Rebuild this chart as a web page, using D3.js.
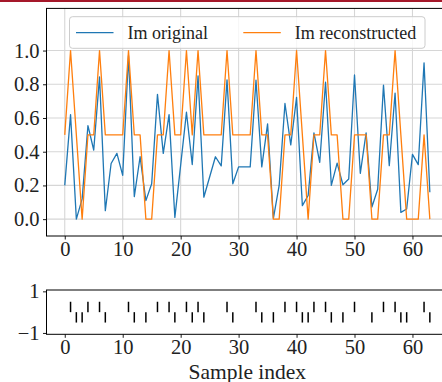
<!DOCTYPE html>
<html><head><meta charset="utf-8">
<script src="https://cdn.jsdelivr.net/npm/d3@7"></script>
<style>html,body{margin:0;padding:0;background:#fff;overflow:hidden}</style>
</head><body>
<svg id="c" width="442" height="382"></svg>
<script>
const imOriginal = [0.20,0.62,0.00,0.12,0.555,0.41,0.844,0.05,0.33,0.39,
  0.26,0.97,0.134,0.37,0.11,0.21,0.74,0.39,0.62,0.01,
  0.32,0.634,0.324,0.85,0.13,0.25,0.37,0.316,0.826,0.21,
  0.31,0.31,0.31,0.824,0.31,0.565,0.005,0.20,0.686,0.44,
  0.722,0.08,0.14,0.512,0.337,0.812,0.20,0.332,0.204,0.238,
  0.855,0.272,0.512,0.072,0.177,0.795,0.317,0.748,0.04,0.06,
  0.384,0.323,0.927,0.16];
const imReconstructed = [0.5,1,0.5,0,0.5,0.5,1,0.5,0.5,0.5,
  0.5,1,0.5,0.5,0,0,0.5,0.5,1,0.5,
  0.5,1,0.5,1,0.5,0.5,0.5,0.5,1,0.5,
  0.5,0.5,0.5,1,0.5,0.5,0,0,0.5,0.5,
  1,0.5,0,0.5,0.5,1,0.5,0.5,0,0,
  0.5,0.5,0.5,0,0,0.5,0.5,1,0.5,0,
  0,0,0.5,0];
const eventsPos = [1,4,6,11,16,18,21,23,28,33,38,40,43,45,50,55,57,62];
const eventsNeg = [2,3,7,12,14,19,22,24,29,34,36,41,42,46,48,53,58,59,63];
const xTicks = [0,10,20,30,40,50,60];
const yTicksTop = [0.0,0.2,0.4,0.6,0.8,1.0];
const yTicksBottom = [-1,1];
const seriesNames = ["Im original","Im reconstructed"];

const FONT = "'Liberation Serif', 'Times New Roman', serif";
const svg = d3.select("#c");
svg.append("rect").attr("x",0).attr("y",0).attr("width",442).attr("height",2).attr("fill","#a5182a");

const x = d3.scaleLinear().domain([-3.15, 66.15]).range([46.5, 448.1]);
const yTop = d3.scaleLinear().domain([-0.1, 1.25]).range([236, 8.4]);
const yBot = d3.scaleLinear().domain([-1.065, 1.065]).range([334.3, 290]);

// grid top
const gTop = svg.append("g");
gTop.selectAll("line.gx").data(xTicks).join("line")
  .attr("x1",d=>x(d)).attr("x2",d=>x(d)).attr("y1",yTop.range()[1]).attr("y2",yTop.range()[0])
  .attr("stroke","#d6d6d6").attr("stroke-width",1.1);
gTop.selectAll("line.gy").data(yTicksTop).join("line")
  .attr("x1",x.range()[0]).attr("x2",x.range()[1]).attr("y1",d=>yTop(d)).attr("y2",d=>yTop(d))
  .attr("stroke","#d6d6d6").attr("stroke-width",1.1);

const line = (arr)=> d3.line().x((d,i)=>x(i)).y(d=>yTop(d))(arr);
svg.append("path").attr("d",line(imOriginal)).attr("fill","none").attr("stroke","#1f77b4").attr("stroke-width",1.3).attr("stroke-linejoin","round");
svg.append("path").attr("d",line(imReconstructed)).attr("fill","none").attr("stroke","#ff7f0e").attr("stroke-width",1.3).attr("stroke-linejoin","round");

function frame(yScale){
  const [x0,x1]=x.range(); const [yb,yt]=yScale.range();
  svg.append("rect").attr("x",x0).attr("y",yt).attr("width",x1-x0).attr("height",yb-yt)
    .attr("fill","none").attr("stroke","#000").attr("stroke-width",1);
}
function axes(yScale, yTicks, yFmt){
  const yb = yScale.range()[0];
  const ax = svg.append("g").attr("transform",`translate(0,${yb})`)
    .call(d3.axisBottom(x).tickValues(xTicks).tickSize(3.5).tickPadding(1.5).tickFormat(d3.format("d")));
  const ay = svg.append("g").attr("transform",`translate(${x.range()[0]},0)`)
    .call(d3.axisLeft(yScale).tickValues(yTicks).tickSize(3.5).tickPadding(3.5).tickFormat(yFmt));
  [ax,ay].forEach(a=>{
    a.select(".domain").remove();
    a.selectAll("line").attr("stroke","#000").attr("stroke-width",0.9);
    a.selectAll("text").attr("font-family",FONT).attr("font-size",20.5).attr("fill","#222");
  });
}
frame(yTop);
axes(yTop, yTicksTop, d3.format(".1f"));

// legend
const lg = svg.append("g");
lg.append("rect").attr("x",69.5).attr("y",16.7).attr("width",355.5).attr("height",31.6).attr("rx",3)
  .attr("fill","#fff").attr("fill-opacity",0.8).attr("stroke","#cccccc").attr("stroke-width",1);
const legItems = [{name:seriesNames[0],color:"#1f77b4",x:76},{name:seriesNames[1],color:"#ff7f0e",x:243.3}];
legItems.forEach(it=>{
  lg.append("line").attr("x1",it.x).attr("x2",it.x+37.5).attr("y1",32.7).attr("y2",32.7)
    .attr("stroke",it.color).attr("stroke-width",1.3);
  lg.append("text").attr("x",it.x+51.5).attr("y",32.7).attr("dy","0.35em")
    .attr("font-family",FONT).attr("font-size",18).attr("fill","#222").text(it.name);
});

// bottom panel events
frame(yBot);
svg.append("g").selectAll("line").data(eventsPos).join("line")
  .attr("x1",d=>x(d)).attr("x2",d=>x(d)).attr("y1",yBot(0.5)).attr("y2",yBot(0))
  .attr("stroke","#000").attr("stroke-width",1.5);
svg.append("g").selectAll("line").data(eventsNeg).join("line")
  .attr("x1",d=>x(d)).attr("x2",d=>x(d)).attr("y1",yBot(0)).attr("y2",yBot(-0.5))
  .attr("stroke","#000").attr("stroke-width",1.5);
axes(yBot, yTicksBottom, d=> d<0 ? "\u2212"+Math.abs(d) : String(d));

svg.append("text").attr("x",x(31.5)).attr("y",378.5).attr("text-anchor","middle")
  .attr("font-family",FONT).attr("font-size",21.5).attr("fill","#222").text("Sample index");
</script>
</body></html>
